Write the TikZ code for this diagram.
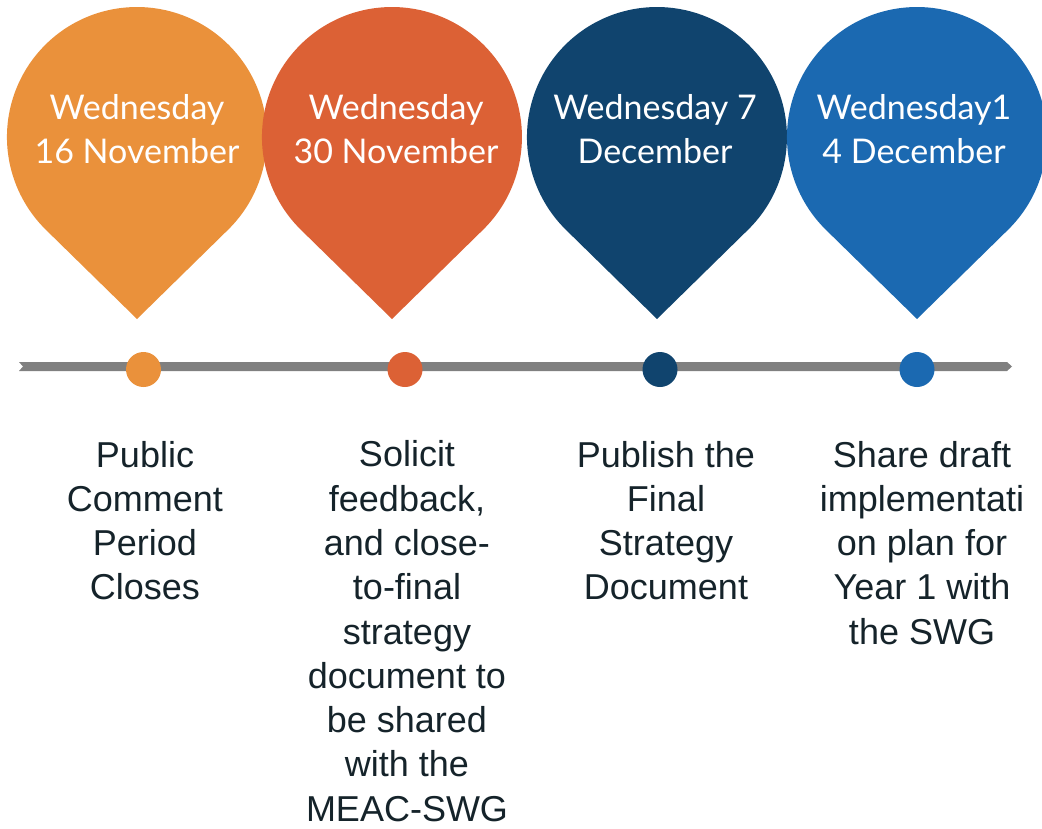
\documentclass[tikz,border=0pt]{standalone}
\usepackage{fontspec}
\setmainfont{Liberation Sans}
\newfontfamily\pinfont{Lato}
\definecolor{cOrange}{HTML}{EA913B}
\definecolor{cRed}{HTML}{DC6135}
\definecolor{cNavy}{HTML}{10446E}
\definecolor{cBlue}{HTML}{1B69B1}
\definecolor{cBar}{HTML}{808080}
\definecolor{cText}{HTML}{15232A}
\newcommand\pinshape[3]{%
  \fill[#3] (#1,#2-182) -- ++(90.9,89.1)
    arc[start angle=-45.6,end angle=225.6,radius=97.5pt] -- cycle;}
\begin{document}
\begin{tikzpicture}[x=0.75pt,y=0.75pt,
  datetext/.style={text=white, font=\pinfont\fontsize{25.5}{33}\selectfont, align=center, anchor=base, inner sep=0pt},
  desctext/.style={text=cText, font=\fontsize{27}{33.2}\selectfont, align=center, anchor=base, inner sep=0pt},
  dot/.style={circle, minimum size=26.25pt, inner sep=0pt}]
\useasboundingbox (0,0) rectangle (1042,-828);
\clip (0,0) rectangle (1042,-828);
% pins
\pinshape{137}{-137}{cOrange}
\pinshape{392}{-137}{cRed}
\pinshape{657}{-137}{cNavy}
\pinshape{917}{-137}{cBlue}
% anchor=base is the baseline of the last line
\node[datetext] (t1) at (137,-163) {Wednesday\\16 November};
\node[datetext] (t2) at (396,-163) {Wednesday\\30 November};
\node[datetext] (t3) at (655,-163) {Wednesday 7\\December};
\node[datetext] (t4) at (914,-163) {Wednesday1\\4 December};
% timeline bar
\fill[cBar] (19,-362) -- (1007,-362) -- (1012,-366.5) -- (1007,-371) -- (19,-371) -- (23,-366.5) -- cycle;
\node[dot, fill=cOrange] (d1) at (143.5,-369.5) {};
\node[dot, fill=cRed] (d2) at (405,-369.5) {};
\node[dot, fill=cNavy] (d3) at (660,-369.5) {};
\node[dot, fill=cBlue] (d4) at (917,-369.5) {};
% descriptions
\node[desctext] (s1) at (145,-599.8) {Public\\Comment\\Period\\Closes};
\node[desctext] (s2) at (407,-821.1) {Solicit\\feedback,\\and close-\\to-final\\strategy\\document to\\be shared\\with the\\MEAC-SWG};
\node[desctext] (s3) at (666,-599.8) {Publish the\\Final\\Strategy\\Document};
\node[desctext] (s4) at (922,-644.1) {Share draft\\implementati\\on plan for\\Year 1 with\\the SWG};
\end{tikzpicture}
\end{document}
